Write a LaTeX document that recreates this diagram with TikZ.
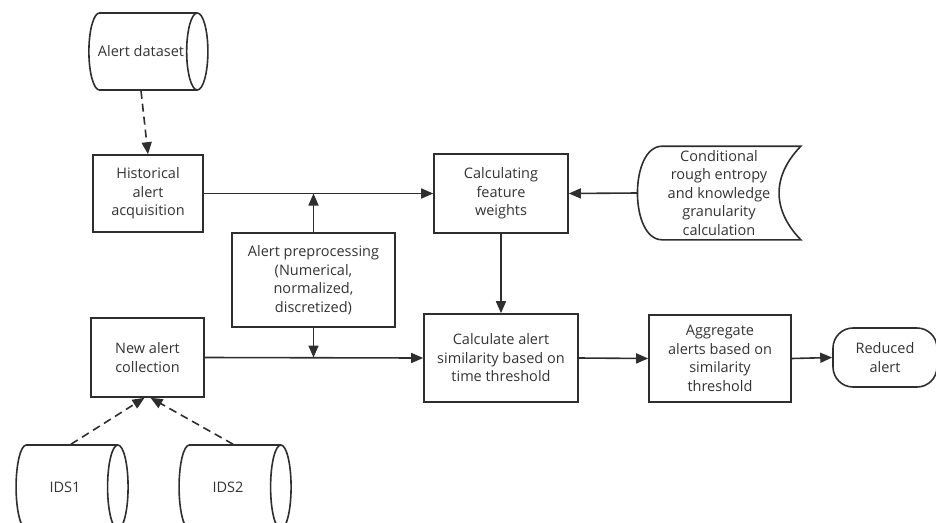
\documentclass[tikz,border=0pt]{standalone}
\usepackage{fontspec}
\setmainfont{Open Sans}
\usetikzlibrary{arrows.meta,positioning,shapes.geometric,calc}
\definecolor{inkline}{HTML}{2E2E2E}
\definecolor{inktext}{HTML}{333333}
\tikzset{
    box/.style={draw=inkline, line width=1.6pt, align=center, text=inktext,
        font=\fontsize{14.5}{18.5}\selectfont, inner sep=2pt},
    dbase/.style={box, cylinder, shape aspect=1.4},
    flow/.style={draw=inkline, line width=1.6pt, -{Triangle[length=12pt,width=10pt]}},
    feed/.style={flow, dash pattern=on 8pt off 5pt}
}

\begin{document}
\begin{tikzpicture}[x=1pt, y=-1pt]
    \useasboundingbox (0,0) rectangle (936,522);
    % sources (cylinder: width is the diameter, height the length)
    \node[dbase, minimum width=77pt, minimum height=119pt, inner xsep=0pt] (dataset) at (141,51.5) {Alert dataset};
    \node[dbase, minimum width=84pt, minimum height=112pt] (ids1) at (65,487) {IDS1};
    \node[dbase, minimum width=84pt, minimum height=112pt] (ids2) at (228,487) {IDS2};
    % process boxes
    \node[box, minimum width=110pt, minimum height=77pt] (hist) at (148,193.5) {Historical\\alert\\acquisition};
    \node[box, minimum width=113pt, minimum height=79pt] (newalert) at (147.5,357.5) {New alert\\collection};
    \node[box, minimum width=163pt, minimum height=94pt] (prep) at (313.5,280) {Alert preprocessing\\(Numerical,\\normalized,\\discretized)};
    \node[box, minimum width=134pt, minimum height=79pt] (weights) at (501,193.5) {Calculating\\feature\\weights};
    \node[box, minimum width=154pt, minimum height=88pt] (simil) at (501,358) {Calculate alert\\similarity based on\\time threshold};
    \node[box, minimum width=142pt, minimum height=87pt] (aggr) at (720,358.5) {Aggregate\\alerts based on\\similarity\\threshold};
    \node[box, rounded corners=20pt, minimum width=104pt, minimum height=59pt] (reduced) at (885,357.5) {Reduced\\alert};
    \node[box, draw=none, minimum width=162pt, minimum height=92pt] (cond) at (719,193) {Conditional\\rough entropy\\and knowledge\\granularity\\calculation};
    \draw[draw=inkline, line width=1.6pt] ([xshift=25pt]cond.north west) -- (cond.north east)
        .. controls +(-29,30) and +(-29,-30) .. (cond.south east) -- ([xshift=25pt]cond.south west)
        .. controls +(-33,0) and +(-33,0) .. ([xshift=25pt]cond.north west) -- cycle;
    % connectors
    \draw[feed] (dataset.south) -- (hist.north);
    \draw[feed] ([xshift=6pt]ids1.north) -- ([xshift=-3pt]newalert.south);
    \draw[feed] ([xshift=5pt]ids2.north) -- ([xshift=3pt]newalert.south);
    \draw[flow] (hist.east) -- (weights.west);
    \draw[flow] (newalert.east) -- (simil.west);
    \draw[flow] (prep.north) -- (prep.north |- hist.east);
    \draw[flow] (prep.south) -- (prep.south |- newalert.east);
    \draw[flow] (cond.west) -- (weights.east);
    \draw[flow] (weights.south) -- (simil.north);
    \draw[flow] (simil.east) -- (aggr.west);
    \draw[flow] (aggr.east) -- (reduced.west);
\end{tikzpicture}
\end{document}
